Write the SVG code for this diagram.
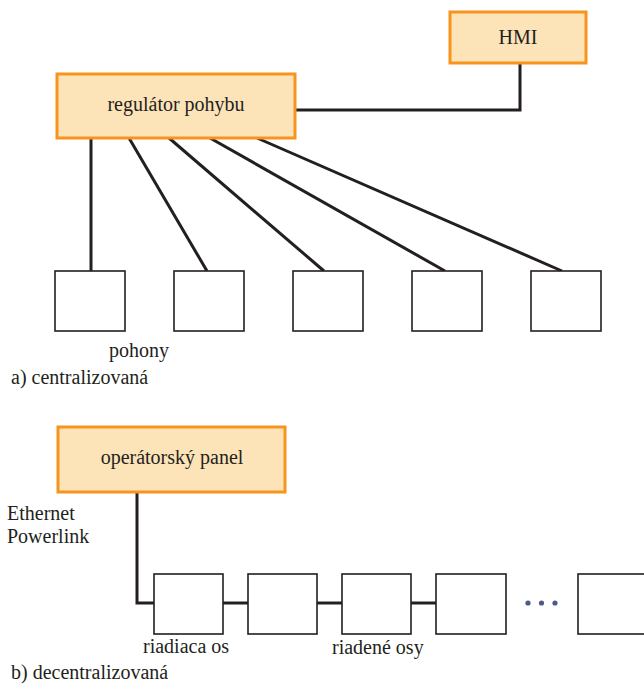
<svg xmlns="http://www.w3.org/2000/svg" width="644" height="684" viewBox="0 0 644 684">
<style>
.hl{fill:#fde3b8;stroke:#f7941d;stroke-width:3}
.bx{fill:#ffffff;stroke:#231f20;stroke-width:1.6}
.ln{fill:none;stroke:#231f20;stroke-width:3}
.c{text-anchor:middle}
</style>
<rect width="644" height="684" fill="#ffffff"/>
<g id="connectors">
<polyline class="ln" points="295,110 520,110 520,63"/>
<line class="ln" x1="91" y1="138" x2="91" y2="271"/>
<line class="ln" x1="129" y1="138" x2="207" y2="271"/>
<line class="ln" x1="169" y1="138" x2="324" y2="271"/>
<line class="ln" x1="210" y1="138" x2="445" y2="271"/>
<line class="ln" x1="257" y1="138" x2="562" y2="271"/>
<polyline class="ln" points="137,492 137,603 154,603"/>
<line class="ln" x1="223" y1="603" x2="248" y2="603"/>
<line class="ln" x1="317" y1="603" x2="342" y2="603"/>
<line class="ln" x1="411" y1="603" x2="436" y2="603"/>
</g>
<g font-family="'Liberation Serif', 'Times New Roman', Times, serif" font-size="20" fill="#231f20">
<g id="hmi">
<rect class="hl" x="450" y="12" width="136" height="51"/>
<text class="c" x="518" y="44">HMI</text>
</g>
<g id="regulator">
<rect class="hl" x="57" y="74" width="238" height="64"/>
<text class="c" x="176" y="111">regulátor pohybu</text>
</g>
<g id="pohon1"><rect class="bx" x="55" y="271" width="70" height="60"/></g>
<g id="pohon2"><rect class="bx" x="174" y="271" width="70" height="60"/></g>
<g id="pohon3"><rect class="bx" x="293" y="271" width="70" height="60"/></g>
<g id="pohon4"><rect class="bx" x="412" y="271" width="70" height="60"/></g>
<g id="pohon5"><rect class="bx" x="531" y="271" width="70" height="60"/></g>
<text x="109" y="357">pohony</text>
<text x="11" y="384">a) centralizovaná</text>
<g id="panel">
<rect class="hl" x="58" y="427" width="227" height="65"/>
<text class="c" x="172" y="464">operátorský panel</text>
</g>
<text x="7" y="520">Ethernet</text>
<text x="7" y="543">Powerlink</text>
<g id="os1"><rect class="bx" x="154" y="574" width="69" height="60"/></g>
<g id="os2"><rect class="bx" x="248" y="574" width="69" height="60"/></g>
<g id="os3"><rect class="bx" x="342" y="574" width="69" height="60"/></g>
<g id="os4"><rect class="bx" x="436" y="574" width="70" height="60"/></g>
<g id="os5"><rect class="bx" x="578" y="574" width="80" height="60"/></g>
<g id="dots" fill="#4a5a8a">
<circle cx="528" cy="603" r="2.6"/>
<circle cx="541.5" cy="603" r="2.6"/>
<circle cx="555" cy="603" r="2.6"/>
</g>
<text x="143" y="653">riadiaca os</text>
<text x="332" y="654">riadené osy</text>
<text x="11" y="679">b) decentralizovaná</text>
</g>
</svg>
